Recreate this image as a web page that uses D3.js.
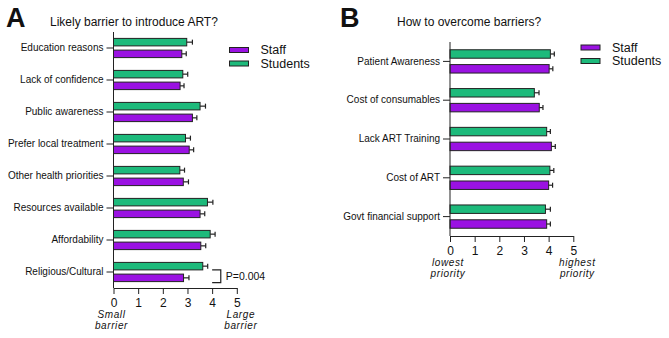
<!DOCTYPE html>
<html><head><meta charset="utf-8">
<script src="https://cdn.jsdelivr.net/npm/d3@7"></script>
<style>body{margin:0;background:#fff}svg{display:block}text{font-family:"Liberation Sans",Arial,sans-serif;fill:#111}</style>
</head><body>
<script>
const seriesNames = ["Staff", "Students"];
const colors = {Staff: "#9a12e2", Students: "#1dba7b"};

const catsA = ["Education reasons","Lack of confidence","Public awareness","Prefer local treatment","Other health priorities","Resources available","Affordability","Religious/Cultural"];
const studentsA = [2.97, 2.81, 3.51, 2.92, 2.69, 3.81, 3.92, 3.62];
const studentsErrA = [0.23, 0.2, 0.22, 0.2, 0.19, 0.22, 0.2, 0.2];
const staffA = [2.77, 2.70, 3.20, 3.07, 2.83, 3.51, 3.54, 2.84];
const staffErrA = [0.18, 0.16, 0.18, 0.18, 0.21, 0.19, 0.2, 0.22];

const catsB = ["Patient Awareness","Cost of consumables","Lack ART Training","Cost of ART","Govt financial support"];
const studentsB = [4.07, 3.42, 3.92, 4.05, 3.87];
const studentsErrB = [0.16, 0.19, 0.15, 0.16, 0.2];
const staffB = [4.02, 3.62, 4.11, 4.00, 3.92];
const staffErrB = [0.15, 0.15, 0.16, 0.16, 0.15];

const xTicks = [0,1,2,3,4,5];

const svg = d3.select("body").append("svg").attr("width",669).attr("height",338);

function panel(o){
  const g = svg.append("g");
  const x = d3.scaleLinear().domain([0,5]).range([o.x0, o.x0 + 123.3]);
  const y = d3.scaleBand().domain(o.cats).range([o.yTop, o.yBot]).paddingInner(0.4).paddingOuter(0.2);
  const inner = d3.scaleBand().domain(["Students","Staff"]).range([0, y.bandwidth()]).paddingInner(o.innerPad);
  const rows = o.cats.map((c,i)=>({c, Students:o.students[i], StudentsErr:o.studentsErr[i], Staff:o.staff[i], StaffErr:o.staffErr[i]}));
  const grp = g.selectAll("g.cat").data(rows).join("g").attr("transform", d=>`translate(0,${y(d.c)})`);
  ["Students","Staff"].forEach(s=>{
    grp.append("rect").attr("x", x(0)).attr("y", inner(s)).attr("width", d=>x(d[s])-x(0)).attr("height", inner.bandwidth())
      .attr("fill", colors[s]).attr("stroke","#222").attr("stroke-width",1);
    grp.append("line").attr("x1", d=>x(d[s])).attr("x2", d=>x(d[s]+d[s+"Err"]))
      .attr("y1", inner(s)+inner.bandwidth()/2).attr("y2", inner(s)+inner.bandwidth()/2).attr("stroke","#222").attr("stroke-width",1.2);
    grp.append("line").attr("x1", d=>x(d[s]+d[s+"Err"])).attr("x2", d=>x(d[s]+d[s+"Err"]))
      .attr("y1", inner(s)+inner.bandwidth()/2-2.5).attr("y2", inner(s)+inner.bandwidth()/2+2.5).attr("stroke","#222").attr("stroke-width",1.2);
  });
  // y axis
  const ya = g.append("g").attr("transform",`translate(${x(0)},0)`)
    .call(d3.axisLeft(y).tickSize(7).tickPadding(3).tickSizeOuter(0));
  ya.select(".domain").attr("stroke","#222").attr("d", `M0,${o.yTop}V${o.yBot}`);
  ya.selectAll(".tick line").attr("stroke","#222");
  ya.selectAll(".tick text").attr("font-size",10).attr("fill","#111").attr("font-family","Liberation Sans, Arial, sans-serif");
  // x axis
  const xa = g.append("g").attr("transform",`translate(0,${o.yBot})`)
    .call(d3.axisBottom(x).tickValues(xTicks).tickFormat(d3.format("d")).tickSize(6).tickPadding(4).tickSizeOuter(0));
  xa.select(".domain").attr("stroke","#222");
  xa.selectAll(".tick line").attr("stroke","#222");
  xa.selectAll(".tick text").attr("font-size",12).attr("fill","#111").attr("font-family","Liberation Sans, Arial, sans-serif");
  // italic end labels
  [[o.lowLbl, x(0)-2],[o.highLbl, x(5)+4]].forEach(([lines, cx])=>{
    lines.forEach((t,k)=>{
      g.append("text").attr("x",cx).attr("y",o.yBot+30+k*11).attr("text-anchor","middle")
        .attr("font-size",10).attr("font-style","italic").attr("letter-spacing",0.6).attr("fill","#222").text(t);
    });
  });
  // title & letter
  g.append("text").attr("x",o.letterX).attr("y",27).attr("font-size",27).attr("font-weight","bold").attr("fill","#000").text(o.letter);
  g.append("text").attr("x",o.titleX).attr("y",26).attr("font-size",12).attr("fill","#222").text(o.title);
  // legend
  const lg = g.append("g");
  seriesNames.forEach((s,i)=>{
    lg.append("rect").attr("x",o.legX).attr("y",o.legY+i*13.5-2.5).attr("width",19).attr("height",5)
      .attr("fill",colors[s]).attr("stroke","#222").attr("stroke-width",1);
    lg.append("text").attr("x",o.legX+31).attr("y",o.legY+i*13.5).attr("dy","0.35em").attr("font-size",12.5).text(s);
  });
  return {x,y,inner};
}

const A = panel({x0:113.5, yTop:32, yBot:288, cats:catsA, students:studentsA, studentsErr:studentsErrA, staff:staffA, staffErr:staffErrA,
  innerPad:0.36, lowLbl:["Small","barrier"], highLbl:["Large","barrier"], letter:"A", letterX:6, title:"Likely barrier to introduce ART?", titleX:50,
  legX:229.5, legY:50});
const B = panel({x0:450, yTop:42, yBot:236, cats:catsB, students:studentsB, studentsErr:studentsErrB, staff:staffB, staffErr:staffErrB,
  innerPad:0.43, lowLbl:["lowest","priority"], highLbl:["highest","priority"], letter:"B", letterX:340, title:"How to overcome barriers?", titleX:397,
  legX:581, legY:47.5});

// significance bracket
const rc = "Religious/Cultural";
const yTopB = A.y(rc) + A.inner("Students") + A.inner.bandwidth();
const yBotB = A.y(rc) + A.inner("Staff") + A.inner.bandwidth()+1;
const bx = A.x(4.35);
svg.append("path").attr("d",`M${A.x(4.0)},${yTopB}H${bx}V${yBotB}H${A.x(4.0)}`).attr("fill","none").attr("stroke","#222").attr("stroke-width",1.2);
svg.append("text").attr("x",bx+5).attr("y",(yTopB+yBotB)/2).attr("dy","0.35em").attr("font-size",10.5).attr("fill","#222").text("P=0.004");
</script>
</body></html>
